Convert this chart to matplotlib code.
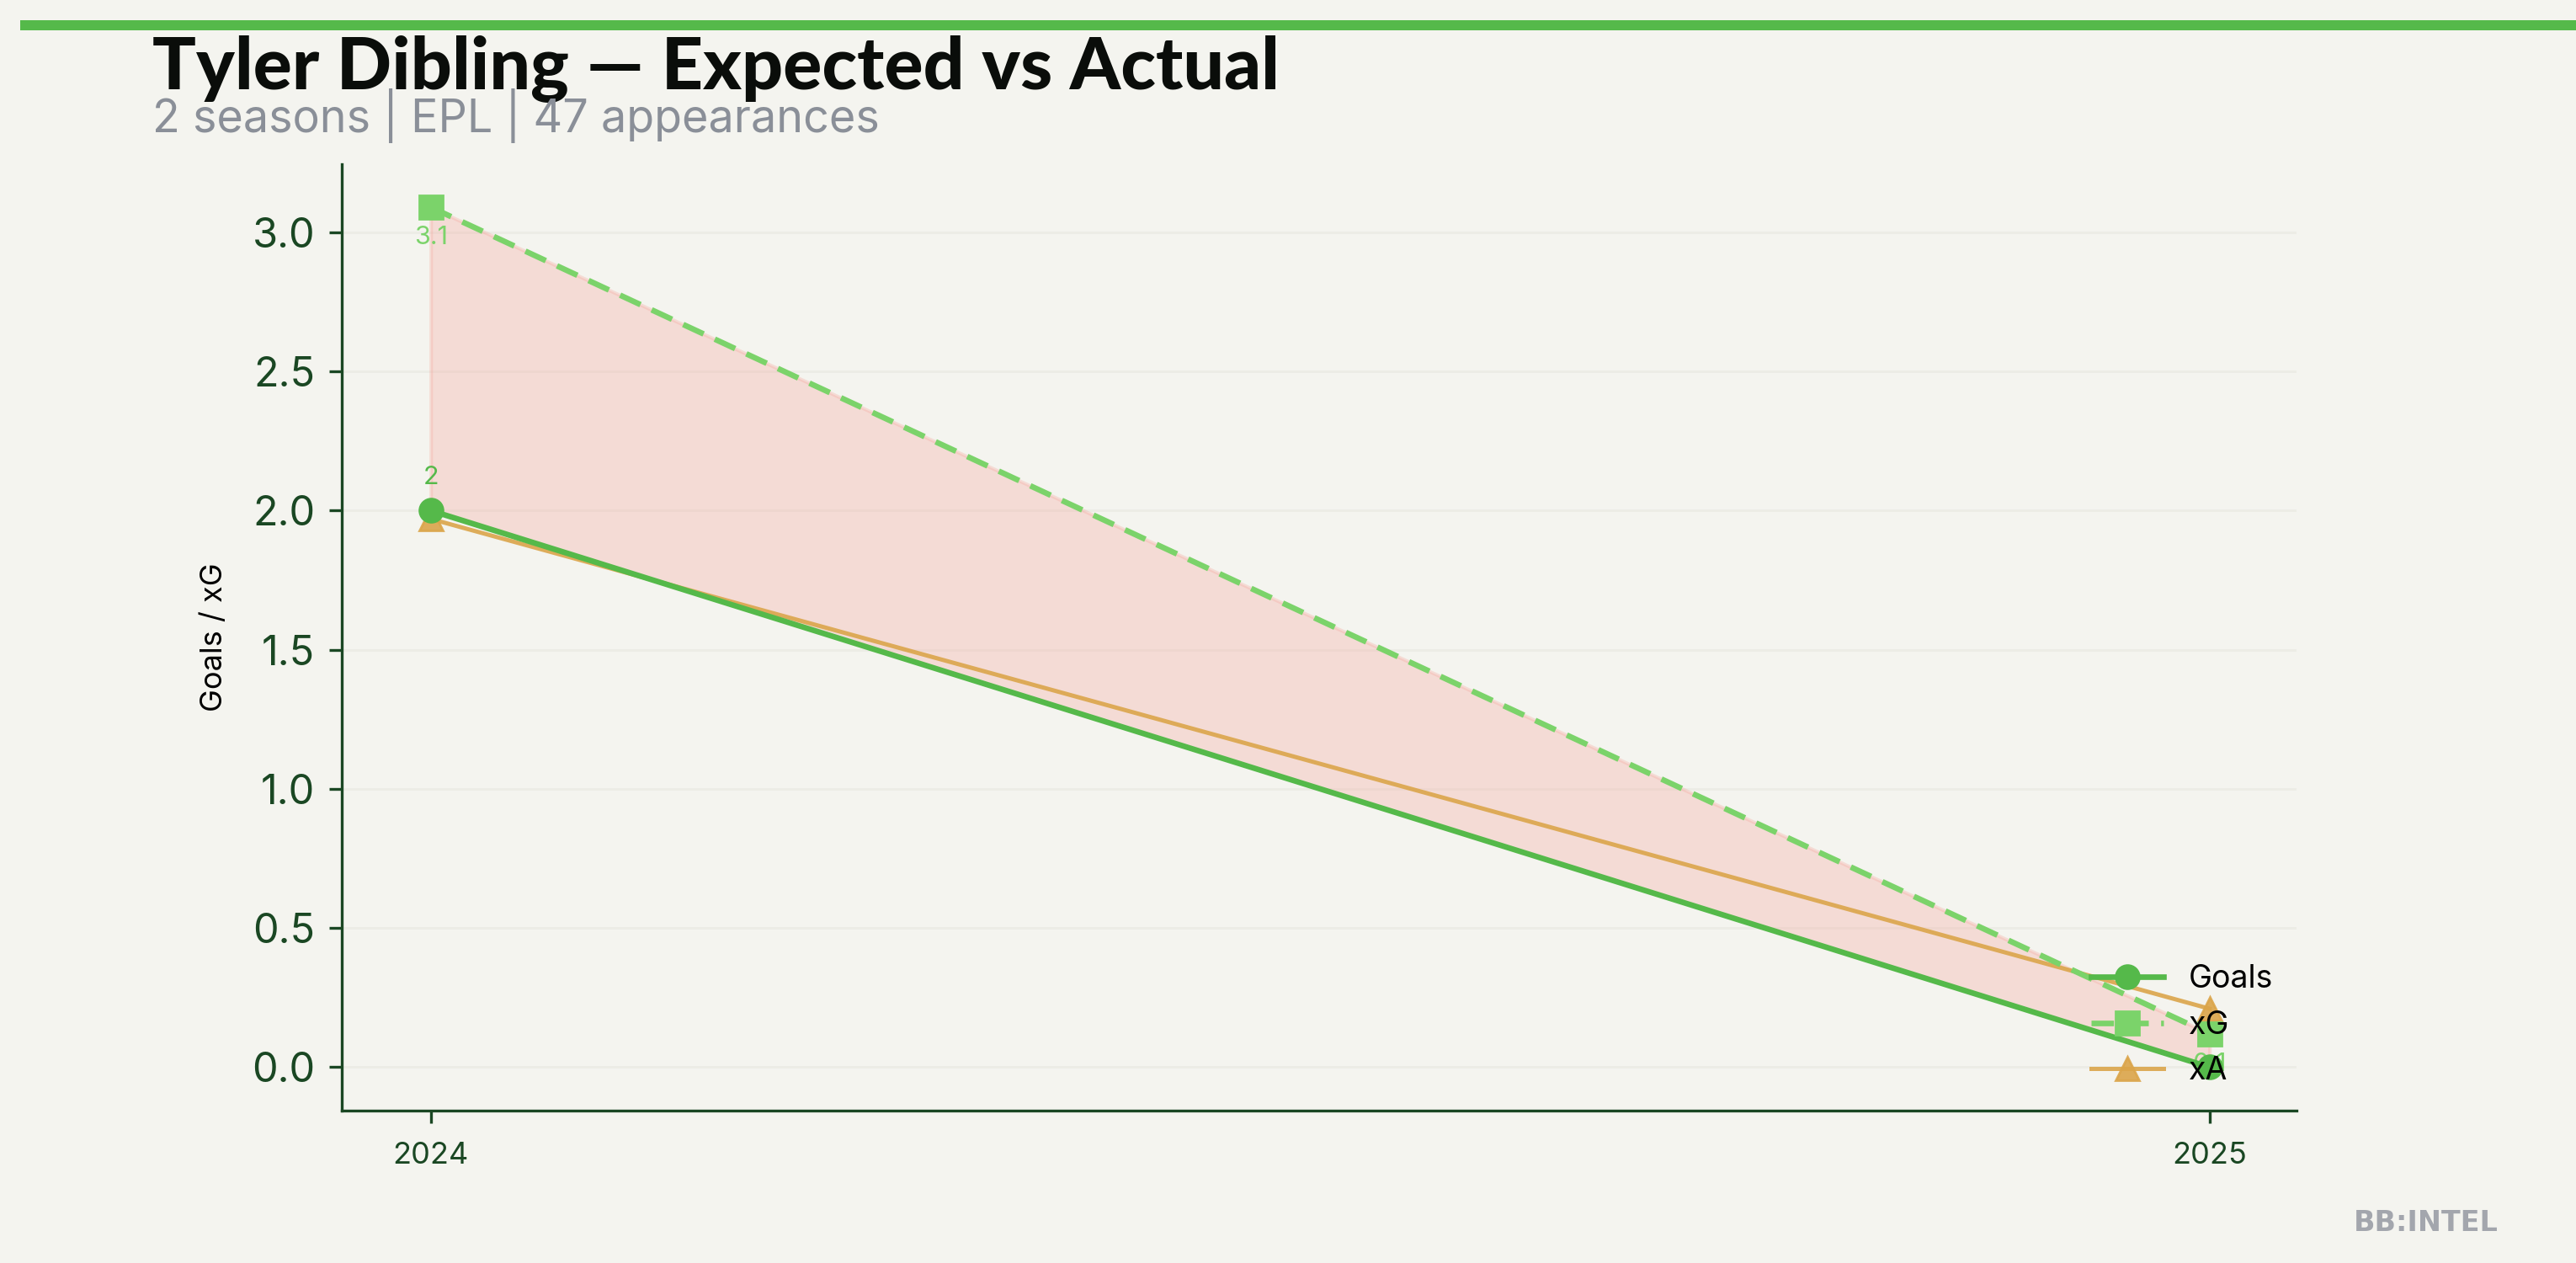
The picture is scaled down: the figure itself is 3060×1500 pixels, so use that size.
import matplotlib
matplotlib.use("Agg")
import matplotlib.pyplot as plt
from matplotlib.patches import Rectangle

# data
seasons = [2024, 2025]
goals = [2, 0]
xg = [3.09, 0.12]
xa = [1.97, 0.21]

player = "Tyler Dibling"
n_apps = 47
league = "EPL"

bg = "#f4f4ef"
dark = "#1a4723"
c_goals = "#55b94a"
c_xg = "#7bd36a"
c_xa = "#dba54a"

plt.rcParams["font.family"] = ["Inter", "DejaVu Sans"]

fig = plt.figure(figsize=(15.3, 7.5), dpi=200, facecolor=bg)
ax = fig.add_axes([0.1327, 0.121, 0.7589, 0.749])
ax.set_facecolor(bg)

ax.fill_between(seasons, goals, xg, color="#f4a49a", alpha=0.3, linewidth=1.5)
ax.plot(seasons, goals, color=c_goals, marker="o", markersize=10, linewidth=2.4, label="Goals", zorder=4)
ax.plot(seasons, xg, color=c_xg, marker="s", markersize=10, linewidth=2.4, linestyle=(0, (4, 2.2)), label="xG", zorder=4)
ax.plot(seasons, xa, color=c_xa, marker="^", markersize=10, linewidth=1.8, alpha=0.9, label="xA", zorder=3)

for x, g in zip(seasons, goals):
    ax.annotate(f"{g:g}", (x, g), xytext=(0, 9), textcoords="offset points",
                ha="center", va="bottom", fontsize=11, color=c_goals)
for x, v in zip(seasons, xg):
    ax.annotate(f"{v:.1f}", (x, v), xytext=(0, -8), textcoords="offset points",
                ha="center", va="top", fontsize=11, color=c_xg)

ax.set_xticks(seasons)
ax.set_xticklabels([str(s) for s in seasons])
ax.set_xlim(2023.95, 2025.049)
ax.set_ylabel("Goals / xG", fontsize=13, color="black", labelpad=10)
ax.tick_params(axis="y", labelsize=17.5, colors=dark, length=5.5, width=1.2, pad=6)
ax.tick_params(axis="x", labelsize=13, colors=dark, length=5.5, width=1.2, pad=8)
ax.grid(axis="y", color="#ecece5", linewidth=1)
ax.set_axisbelow(True)
for s in ["top", "right"]:
    ax.spines[s].set_visible(False)
for s in ["left", "bottom"]:
    ax.spines[s].set_color(dark)
    ax.spines[s].set_linewidth(1.2)

ax.legend(loc="lower right", frameon=False, fontsize=13.5, handlelength=2.3,
          labelspacing=0.5, borderaxespad=0.35)

fig.add_artist(Rectangle((0.008, 0.976), 0.992, 0.008, transform=fig.transFigure,
                         color=c_goals, linewidth=0))
fig.text(0.059, 0.929, f"{player} — Expected vs Actual", fontsize=31, fontweight="black",
         family=["Lato", "DejaVu Sans"], color="#0a0d0a", va="baseline")
fig.text(0.059, 0.895, f"{len(seasons)} seasons | {league} | {n_apps} appearances", fontsize=19.4,
         color="#8a8f98", va="baseline")
fig.text(0.970, 0.025, "BB:INTEL", fontsize=12, fontweight="bold", color="#a3a6ad",
         ha="right", va="baseline", family=["DejaVu Sans"])

fig.savefig("out.png", dpi=200, facecolor=bg)
